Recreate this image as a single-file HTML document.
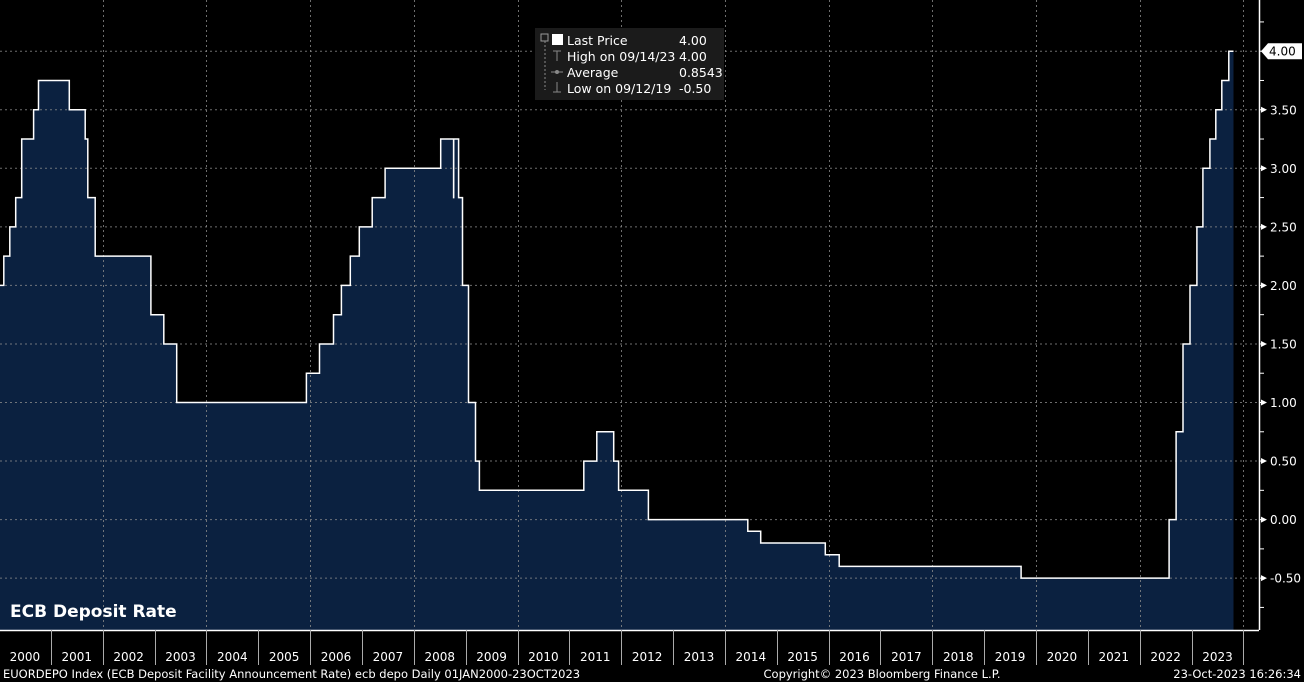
<!DOCTYPE html>
<html><head><meta charset="utf-8">
<style>
html,body{margin:0;padding:0;background:#000;width:1304px;height:682px;overflow:hidden;font-family:"DejaVu Sans","Liberation Sans",sans-serif;}
svg{display:block}
</style></head>
<body>
<svg id="chart" width="1304" height="682" xmlns="http://www.w3.org/2000/svg"></svg>
<script>
const changeDates = ["2000-01-01","2000-02-04","2000-03-17","2000-04-28","2000-06-09","2000-09-01","2000-10-06","2001-05-11","2001-08-31","2001-09-18","2001-11-09","2002-12-06","2003-03-07","2003-06-06","2005-12-06","2006-03-08","2006-06-15","2006-08-09","2006-10-11","2006-12-13","2007-03-14","2007-06-13","2008-07-09","2008-10-08","2008-10-09","2008-11-12","2008-12-10","2009-01-21","2009-03-11","2009-04-08","2011-04-13","2011-07-13","2011-11-09","2011-12-14","2012-07-11","2014-06-11","2014-09-10","2015-12-09","2016-03-16","2019-09-18","2022-07-27","2022-09-14","2022-11-02","2022-12-21","2023-02-08","2023-03-22","2023-05-10","2023-06-21","2023-08-02","2023-09-20"];
const rateValues = [2.00,2.25,2.50,2.75,3.25,3.50,3.75,3.50,3.25,2.75,2.25,1.75,1.50,1.00,1.25,1.50,1.75,2.00,2.25,2.50,2.75,3.00,3.25,2.75,3.25,2.75,2.00,1.00,0.50,0.25,0.50,0.75,0.50,0.25,0.00,-0.10,-0.20,-0.30,-0.40,-0.50,0.00,0.75,1.50,2.00,2.50,3.00,3.25,3.50,3.75,4.00];
const endDate = "2023-10-23";
const yTicks = [-0.5,0,0.5,1,1.5,2,2.5,3,3.5,4];
const yearLabels = ["2000","2001","2002","2003","2004","2005","2006","2007","2008","2009","2010","2011","2012","2013","2014","2015","2016","2017","2018","2019","2020","2021","2022","2023"];

const NS="http://www.w3.org/2000/svg";
const svg=document.getElementById('chart');
function el(tag,attrs,parent){const e=document.createElementNS(NS,tag);for(const k in attrs)e.setAttribute(k,attrs[k]);(parent||svg).appendChild(e);return e;}
function dec(s){const [y,m,d]=s.split('-').map(Number);const st=Date.UTC(y,0,1),en=Date.UTC(y+1,0,1);return y+(Date.UTC(y,m-1,d)-st)/(en-st);}
const X0=-1, YW=51.85, PLOT_R=1259, PLOT_B=630;
function xS(t){return X0+(t-2000)*YW;}
function yS(v){return 519.6-v*117.1;}

// background plot
el('rect',{x:0,y:0,width:1304,height:682,fill:'#000'});

// area + line
let pts=[];
for(let i=0;i<changeDates.length;i++){
  const x=xS(dec(changeDates[i]));const y=yS(rateValues[i]);
  if(i>0)pts.push([x,yS(rateValues[i-1])]);
  pts.push([x,y]);
}
const xe=xS(dec(endDate));
pts.push([xe,yS(rateValues[rateValues.length-1])]);
const lineD='M'+pts.map(p=>p[0].toFixed(1)+','+p[1].toFixed(1)).join(' L');
const area=el('path',{d:lineD+' L'+xe.toFixed(1)+','+PLOT_B+' L'+pts[0][0]+','+PLOT_B+' Z',fill:'#0b2140'});



// grid
const g=el('g',{});


yTicks.forEach(v=>{el('line',{x1:0,x2:PLOT_R,y1:yS(v),y2:yS(v),stroke:'#8a8a8a','stroke-width':1,'stroke-dasharray':'2,3',opacity:0.8},g);});
for(let i=2;i<=24;i+=2){const x=Math.round(xS(2000+i))+0.5;el('line',{x1:x,x2:x,y1:0,y2:PLOT_B,stroke:'#8a8a8a','stroke-width':1,'stroke-dasharray':'2,3',opacity:0.8},g);}

const line=el('path',{d:lineD,fill:'none',stroke:'#fff','stroke-width':1.5});



// axes
el('line',{x1:0,x2:PLOT_R,y1:PLOT_B+0.5,y2:PLOT_B+0.5,stroke:'#fff','stroke-width':1.5});
el('line',{x1:PLOT_R+0.5,x2:PLOT_R+0.5,y1:0,y2:PLOT_B,stroke:'#fff','stroke-width':1.5});
for(let v=-0.75;v<=4.5;v+=0.25){const y=yS(v);if(y<0||y>PLOT_B)continue;el('line',{x1:PLOT_R,x2:PLOT_R+5,y1:y,y2:y,stroke:'#fff'});}
yTicks.forEach(v=>{
  if(v===4)return;
  const y=yS(v);
  el('path',{d:`M${PLOT_R+2},${y-3} L${PLOT_R+8},${y} L${PLOT_R+2},${y+3}Z`,fill:'#fff'});
  const t=el('text',{x:1270,y:y+4.5,fill:'#fff','font-size':12});
  t.textContent=v.toFixed(2);
  
  
});
// last price marker
const y4=yS(rateValues[rateValues.length-1]);
const lp=el('path',{d:`M${PLOT_R+2},${y4} L${PLOT_R+9},${y4-8} L1302,${y4-8} L1302,${y4+8} L${PLOT_R+9},${y4+8}Z`,fill:'#fff'});


const lpt=el('text',{x:1269,y:y4+4.5,fill:'#000','font-size':12});
lpt.textContent=rateValues[rateValues.length-1].toFixed(2);

// x axis
yearLabels.forEach((lab,i)=>{
  const x0=xS(2000+i),x1=xS(2001+i);
  const sep=el('line',{x1:Math.round(x1)+0.5,x2:Math.round(x1)+0.5,y1:PLOT_B,y2:665,stroke:'#aaa'});
  const t=el('text',{x:(x0+x1)/2,y:661,fill:'#fff','font-size':12,'text-anchor':'middle'});
  t.textContent=lab;
  
  
});

// title
const title=el('text',{x:10,y:617,fill:'#fff','font-size':17,'font-weight':'bold'});
title.textContent='ECB Deposit Rate';



// footer
function ft(x,txt,anchor,name){const t=el('text',{x:x,y:678,fill:'#fff','font-size':11.5,'text-anchor':anchor||'start'});t.textContent=txt;}
ft(3,'EUORDEPO Index (ECB Deposit Facility Announcement Rate) ecb depo  Daily 01JAN2000-23OCT2023','start','footer-description');
ft(882,'Copyright\u00A9 2023 Bloomberg Finance L.P.','middle','footer-copyright');
ft(1301,'23-Oct-2023 16:26:34','end','footer-timestamp');

// legend
const lg=el('g',{});


el('rect',{x:535,y:28,width:189,height:72,fill:'#1b1b1b'},lg);
el('rect',{x:541,y:34,width:7,height:7,fill:'none',stroke:'#999'},lg);
el('line',{x1:545,x2:545,y1:41,y2:90,stroke:'#888','stroke-dasharray':'2,2'},lg);
el('rect',{x:552,y:34,width:11,height:11,fill:'#fff'},lg);
const rows=[['Last Price','4.00',45],['High on 09/14/23','4.00',61],['Average','0.8543',77],['Low on 09/12/19','-0.50',93]];
rows.forEach(r=>{
  const a=el('text',{x:567,y:r[2],fill:'#fff','font-size':12.5},lg);a.textContent=r[0];
  const b=el('text',{x:679,y:r[2],fill:'#fff','font-size':12.5},lg);b.textContent=r[1];
});
el('path',{d:'M553,51 L561,51 M557,51 L557,61',stroke:'#888',fill:'none'},lg);
el('path',{d:'M551,72 L563,72',stroke:'#888'},lg);
el('circle',{cx:557,cy:72,r:2,fill:'#888'},lg);
el('path',{d:'M557,82 L557,92 M553,92 L561,92',stroke:'#888',fill:'none'},lg);
</script>
</body></html>
